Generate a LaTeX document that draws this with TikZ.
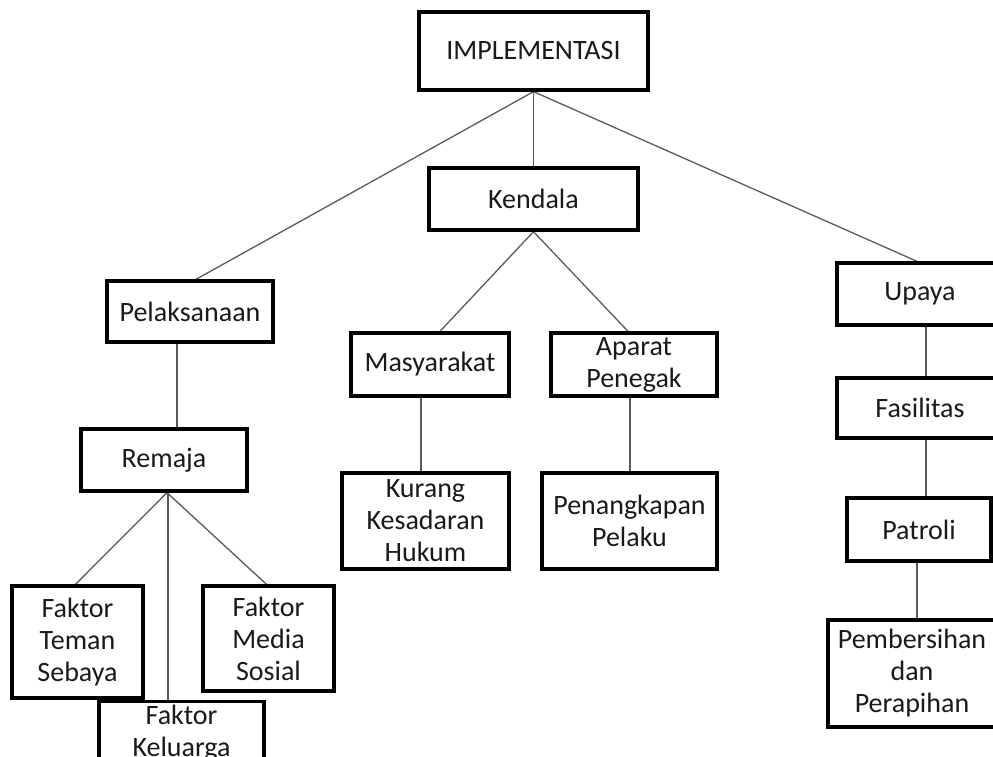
\documentclass[tikz,border=0pt]{standalone}
\usepackage{fontspec}
\setmainfont{Carlito}
\usetikzlibrary{backgrounds}
\definecolor{txt}{HTML}{1A1A1A}
\definecolor{ln}{HTML}{5A5A5A}
\tikzset{
  box/.style={draw=black, line width=3.3pt, fill=white, align=center,
    inner sep=1pt, text=txt, font=\fontsize{28}{32}\selectfont},
  link/.style={draw=ln, line width=1.3pt}
}
\begin{document}
\begin{tikzpicture}[x=1pt,y=-1pt]
\useasboundingbox (0,0) rectangle (993,757);
\clip (0,0) rectangle (993,757);

\node[box, minimum width=229pt, minimum height=78pt] (impl) at (533.5,51) {IMPLEMENTASI};
\node[box, minimum width=209pt, minimum height=62pt] (kend) at (533.5,199) {Kendala};
\node[box, minimum width=166pt, minimum height=61pt] (pel) at (190,311.5) {Pelaksanaan};
\node[box, minimum width=166pt, minimum height=62pt] (rem) at (164,460) {Remaja};
\node[box, minimum width=158pt, minimum height=63pt] (masy) at (430,364.5) {Masyarakat};
\node[box, minimum width=166pt, minimum height=63pt, inner ysep=0pt] (apar) at (634,364.5) {Aparat\\Penegak};
\node[box, minimum width=167pt, minimum height=96pt, inner ysep=0pt] (kur) at (425.5,521) {Kurang\\Kesadaran\\Hukum};
\node[box, minimum width=175pt, minimum height=96pt] (pen) at (629.5,521) {Penangkapan\\Pelaku};
\node[box, minimum width=131pt, minimum height=112pt] (tem) at (77.5,642) {Faktor\\Teman\\Sebaya};
\node[box, minimum width=131pt, minimum height=105pt] (med) at (268.5,638.5) {Faktor\\Media\\Sosial};
\node[box, minimum width=165pt, inner ysep=3pt, anchor=north] (kel) at (181.5,700) {Faktor\\Keluarga\\[8pt]};
\node[box, minimum width=166pt, minimum height=62pt] (upa) at (920,294) {Upaya};
\node[box, minimum width=166pt, minimum height=60pt] (fas) at (920,408) {Fasilitas};
\node[box, minimum width=144pt, minimum height=63pt] (pat) at (919,529.5) {Patroli};
\node[box, minimum width=168pt, minimum height=107pt] (pem) at (912,673.5) {Pembersihan\\dan\\Perapihan};

\begin{scope}[on background layer]
\draw[link] (impl.south) -- ([xshift=6pt]pel.north);
\draw[link] (impl.south) -- (kend.north);
\draw[link] (impl.south) -- ([xshift=-3pt]upa.north);
\draw[link] (kend.south) -- ([xshift=10pt]masy.north);
\draw[link] (kend.south) -- ([xshift=-6pt]apar.north);
\draw[link] ([xshift=-9pt]masy.south) -- ([xshift=-9pt]masy.south |- kur.north);
\draw[link] ([xshift=-4pt]apar.south) -- ([xshift=-4pt]apar.south |- pen.north);
\draw[link] ([xshift=-13pt]pel.south) -- ([xshift=-13pt]pel.south |- rem.north);
\draw[link] ([xshift=3pt]rem.south) -- ([xshift=-2pt]tem.north);
\draw[link] ([xshift=3pt]rem.south) -- ([xshift=-2pt]med.north);
\draw[link] ([xshift=4pt]rem.south) -- ([xshift=4pt]rem.south |- kel.north);
\draw[link] ([xshift=6pt]upa.south) -- ([xshift=6pt]upa.south |- fas.north);
\draw[link] ([xshift=6pt]fas.south) -- ([xshift=6pt]fas.south |- pat.north);
\draw[link] ([xshift=-2pt]pat.south) -- ([xshift=-2pt]pat.south |- pem.north);
\end{scope}
\end{tikzpicture}
\end{document}
